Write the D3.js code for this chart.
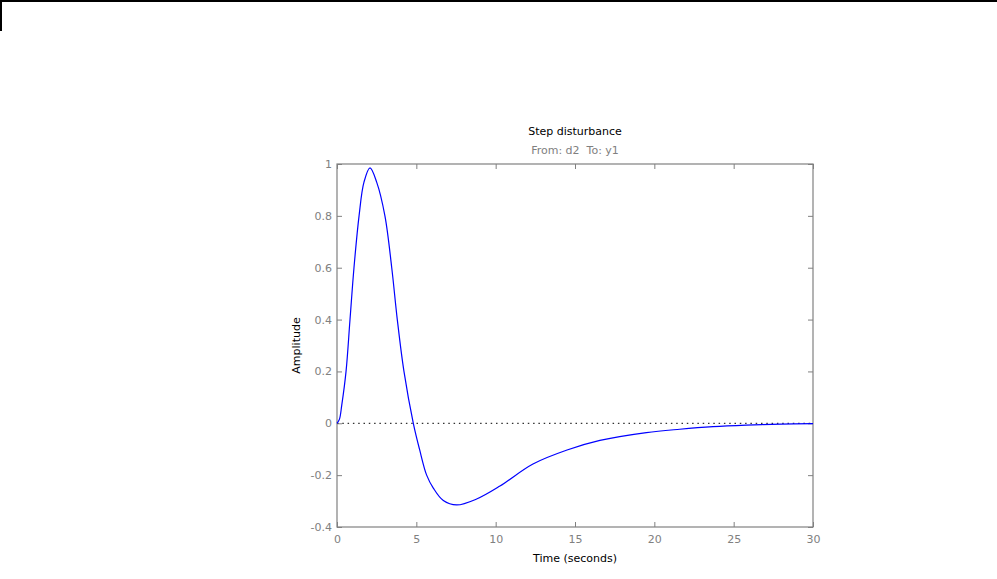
<!DOCTYPE html>
<html><head><meta charset="utf-8">
<script src="https://cdn.jsdelivr.net/npm/d3@7"></script>
<style>body{margin:0;background:#fff}svg{display:block}</style>
</head><body>
<script>
const timeData = [0, 0.15, 0.3, 0.57, 0.82, 1.07, 1.39, 1.7, 2.08, 2.5, 3.02, 3.45, 3.8, 4.22, 4.81, 5.2, 5.65, 6.07, 6.7, 7.54, 8.8, 10.27, 12.35, 14.5, 16.57, 19.5, 21.6, 23.7, 25.8, 28, 30];
const amplitudeData = [0, 0.015, 0.07, 0.2, 0.4, 0.6, 0.8, 0.93, 0.985, 0.93, 0.8, 0.6, 0.4, 0.2, 0, -0.1, -0.2, -0.25, -0.298, -0.315, -0.292, -0.242, -0.157, -0.103, -0.066, -0.036, -0.023, -0.013, -0.007, -0.003, -0.001];
const xTicks = [0, 5, 10, 15, 20, 25, 30];
const yTicks = [-0.4, -0.2, 0, 0.2, 0.4, 0.6, 0.8, 1];
const titleText = "Step disturbance";
const subTitleText = "From: d2  To: y1";
const xLabelText = "Time (seconds)";
const yLabelText = "Amplitude";

const W = 997, H = 579;
const L = 337, R = 813, T = 164, B = 527;
const font = "DejaVu Sans, sans-serif";
const gray = "#808080";

const svg = d3.select("body").append("svg").attr("width", W).attr("height", H);

// window frame
svg.append("line").attr("x1",0).attr("x2",W).attr("y1",1).attr("y2",1).attr("stroke","#000").attr("stroke-width",2);
svg.append("line").attr("x1",1).attr("x2",1).attr("y1",0).attr("y2",31).attr("stroke","#000").attr("stroke-width",2);

const x = d3.scaleLinear().domain([0,30]).range([L,R]);
const y = d3.scaleLinear().domain([-0.4,1]).range([B,T]);
const fmt = d => String(+(+d).toFixed(1));

function styleAxis(g){
  g.select(".domain").remove();
  g.selectAll("line").attr("stroke", gray);
  g.selectAll("text").attr("fill", gray).attr("font-family", font).attr("font-size", 11);
}
svg.append("g").attr("transform",`translate(0,${B})`)
  .call(d3.axisBottom(x).tickValues(xTicks).tickFormat(fmt).tickSizeInner(-5).tickSizeOuter(0).tickPadding(8))
  .call(styleAxis);
svg.append("g").attr("transform",`translate(${L},0)`)
  .call(d3.axisLeft(y).tickValues(yTicks).tickFormat(fmt).tickSizeInner(-5).tickSizeOuter(0).tickPadding(5))
  .call(styleAxis);
svg.append("g").attr("transform",`translate(0,${T})`)
  .call(d3.axisTop(x).tickValues(xTicks).tickFormat("").tickSizeInner(-5).tickSizeOuter(0))
  .call(styleAxis);
svg.append("g").attr("transform",`translate(${R},0)`)
  .call(d3.axisRight(y).tickValues(yTicks).tickFormat("").tickSizeInner(-5).tickSizeOuter(0))
  .call(styleAxis);

// zero line
svg.append("line").attr("x1",x(0)).attr("x2",x(30)).attr("y1",y(0)).attr("y2",y(0))
  .attr("stroke","#333").attr("stroke-dasharray","1.5,3.8").attr("stroke-width",1.3);

// box
svg.append("rect").attr("x",L).attr("y",T).attr("width",R-L).attr("height",B-T)
  .attr("fill","none").attr("stroke",gray).attr("stroke-width",1.2);

// curve
const pts = timeData.map((t,i)=>[t, amplitudeData[i]]);
svg.append("path").datum(pts)
  .attr("d", d3.line().x(d=>x(d[0])).y(d=>y(d[1])).curve(d3.curveCatmullRom.alpha(0.5)))
  .attr("fill","none").attr("stroke","#0000ff").attr("stroke-width",1.2);

// titles
svg.append("text").attr("x",(L+R)/2).attr("y",135).attr("text-anchor","middle")
  .attr("font-family",font).attr("font-size",11).attr("fill","#000").text(titleText);
svg.append("text").attr("x",(L+R)/2).attr("y",154).attr("text-anchor","middle").attr("xml:space","preserve")
  .style("white-space","pre")
  .attr("font-family",font).attr("font-size",11).attr("fill",gray).text(subTitleText);
svg.append("text").attr("x",(L+R)/2).attr("y",562).attr("text-anchor","middle")
  .attr("font-family",font).attr("font-size",11).attr("fill","#000").text(xLabelText);
svg.append("text").attr("transform",`translate(300,${(T+B)/2}) rotate(-90)`).attr("text-anchor","middle")
  .attr("font-family",font).attr("font-size",11).attr("fill","#000").text(yLabelText);
</script>
</body></html>
